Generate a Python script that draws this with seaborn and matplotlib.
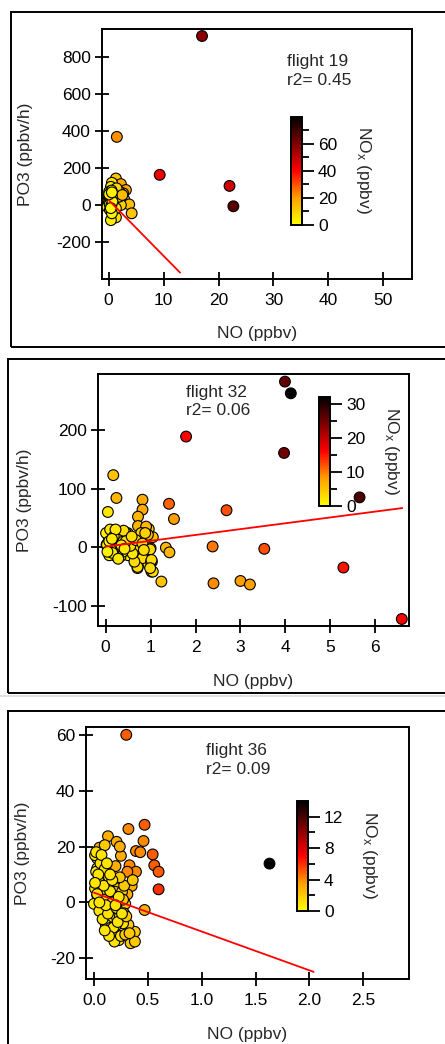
import numpy as np
import pandas as pd
import seaborn as sns
import matplotlib.pyplot as plt
from matplotlib.colors import LinearSegmentedColormap, Normalize
from matplotlib.cm import ScalarMappable
from matplotlib.patches import Rectangle
from matplotlib.lines import Line2D

# flight 19 : NO (ppbv), PO3 (ppbv/h), NOx (ppbv)
f19_no = [0.3, 0.5, 0.2, 17.0, 1.5, 9.3, 22.0, 22.7,
          1.33, 2.24, 0.6, 0.42, 3.15, 2.66, 1.93, 0.1, 0.0, 1.0, 2.85, 3.75,
          4.2, 1.33, 0.42, 0.73, 0.1, -0.2, 0.42, 1.0, 1.64, 2.24, 1.33, 0.24,
          0.6, 0.0, 0.84, 1.45, 0.55, 1.18, 1.93, 2.5, 0.2, 0.3, 0.5, 0.4,
          0.6, 0.3, 0.2, 0.5, 0.7, 0.4, 0.1, 0.6]
f19_po3 = [30, 10, -5, 915, 370, 165, 105, -5,
           145, 115, 122, 100, 83, 65, 74, 74, 47, 47, 32, 5,
           -43, -65, -80, -25, 11, -8, 19, 11, 29, 2, -16, -25,
           -43, 29, 65, 92, 80, 36, 47, 56, 40, 25, 35, 15,
           45, 55, 5, 0, 20, -15, 60, 70]
f19_nox = [72, 70, 68, 58, 22, 42, 48, 66,
           12, 18, 6, 5, 18, 16, 12, 4, 2, 8, 16, 14,
           12, 6, 4, 4, 2, 1, 2, 3, 6, 10, 4, 2,
           3, 1, 5, 8, 5, 5, 10, 14, 2, 2, 2, 1,
           3, 2, 1, 1, 2, 1, 2, 3]

# flight 32
f32_no = [3.99, 4.12, 1.79, 3.97, 5.65, 0.17, 0.24, 0.05, 0.82, 0.82,
          0.72, 0.72, 1.41, 1.52, 2.69, 2.38, 3.53, 5.29, 6.59, 2.40,
          3.0, 3.21, 1.24, 1.02, 1.03, 0.95, 1.34, 1.42, 1.05, 0.96,
          0.9, 0.92, 1.0, 0.72, 0.71, 0.65, 0.5, 0.49, 0.55, 0.35,
          0.24, 0.13, 0.06, 0.05, 0.2, 0.25, 0.33, 0.07, 0.02, 0.62,
          0.3, 0.9, 0.94, 0.79, 0.45, 0.49, 0.71, 0.94, 0.82, 1.01,
          1.05, 0.71, 0.64, 0.6, 0.38, 0.27, 0.23, 0.12, 0.01, 0.16,
          0.3, 0.38, 0.12, 0.03, 0.19, 0.08, 0.53, 0.55, 0.67, 0.82,
          0.88, 0.99, 0.85, 1.02, 0.99, 0.1, 0.15, 0.4, 0.45, 0.28,
          0.18, 0.08, 0.35, 0.58, 0.04, 0.22, 0.14, 0.42]
f32_po3 = [283, 263, 189, 161, 85, 123, 84, 60, 81, 64,
           52, 36, 74, 48, 63, 1, -3, -35, -123, -62,
           -58, -64, -59, -42, -25, -29, -1, -9, 17, 31,
           22, -5, -2, -2, -36, -26, -14, 24, 5, -7,
           16, 27, 19, 7, -2, 8, -16, -4, 4, 14,
           25, 35, 21, 24, 24, 6, 1, -2, -19, -25,
           -42, -34, -25, -11, -8, -16, 1, 12, 24, 26,
           24, 9, -5, 4, -14, -14, 15, 2, 12, 6,
           24, -4, -5, -22, -36, 30, -10, 28, 10, -20,
           18, 10, 3, 18, -8, 30, 14, -3]
f32_nox = [26, 32, 16, 25, 27, 5, 6, 2, 7, 7,
           6, 6, 11, 8, 12, 10, 12, 15, 16, 9,
           8, 8, 5, 3, 3, 3, 6, 6, 5, 5,
           5, 4, 4, 3, 3, 3, 2, 4, 3, 2,
           2, 2, 1, 1, 1, 2, 2, 1, 1, 3,
           2, 6, 5, 4, 3, 3, 3, 4, 3, 3,
           3, 3, 3, 2, 2, 2, 2, 2, 1, 2,
           2, 2, 1, 1, 1, 1, 3, 3, 3, 4,
           4, 3, 3, 3, 3, 2, 2, 3, 3, 2,
           2, 1, 2, 3, 1, 2, 2, 2]

# flight 36
f36_no = [0.30, 1.63, 0.47, 0.32, 0.13, 0.21, 0.46, 0.545, 0.39, 0.43,
          0.56, 0.60, 0.60, 0.33, 0.39, 0.31, 0.20, 0.25, 0.24, 0.05,
          0.10, 0.35, 0.31, 0.47, 0.38, 0.34, 0.38, 0.23, 0.16, 0.32,
          0.27, 0.20, 0.19, 0.19, 0.12, 0.06, 0.03, 0.01, 0.06, 0.03,
          0.03, 0.01, 0.06, 0.10, 0.16, 0.14, 0.22, 0.24, 0.19, 0.29,
          0.28, 0.24, 0.12, 0.06, 0.00, 0.02, 0.06, 0.10, 0.14, 0.08,
          0.11, 0.16, 0.19, 0.25, 0.29, 0.33, 0.20, 0.26, 0.28, 0.24,
          0.04, 0.07, 0.09, 0.02, 0.05, 0.08, 0.13, 0.17, 0.21, 0.15,
          0.11, 0.04, 0.09, 0.18, 0.22, 0.27, 0.14, 0.07, 0.03, 0.12,
          0.17, 0.23, 0.30, 0.26, 0.36, 0.10, 0.05, 0.15, 0.20, 0.01]
f36_po3 = [60, 13.9, 27.8, 26.3, 23.7, 21.7, 22, 17.2, 18.4, 18,
           13.3, 11, 4.7, 13.3, 11, 11, 13, 16.7, 20, 19.6,
           20.5, 5.9, 2.9, -2.7, -10.5, -14.6, -14, -13.5, -11.5, -8,
           -7.5, -8.5, -5.4, -2, -6.5, -2, 2.6, 5, 7.4, 12.2,
           15.8, 16.9, 9.8, 5.6, 7.4, 2.6, 5, 1.5, 0.8, -0.5,
           -3.9, -5, -2.7, 0, -0.5, 11, 14, 12, 9, 2.6,
           -8, -9, -14, -12, -11.5, -11, 3.8, 3.8, 6, 9,
           8, 4, 1, 18, -3, -6, -4, 0, -2, 4,
           -1, 10, 6, -9, -7, 1, -12, 17, 3, 14,
           8, 2, -5, -4, 8, -10, 0, 10, -1, 7]
f36_nox = [5, 14, 5, 4, 3, 3, 4, 5, 4, 4,
           5, 5, 6, 4, 4, 4, 3, 3, 3, 3,
           2, 3, 3, 3, 2, 2, 2, 1, 1, 2,
           1, 1, 1, 1, 1, 1, 1, 1, 1, 1,
           1, 1, 1, 2, 2, 1, 2, 1, 1, 2,
           2, 1, 1, 1, 0.5, 1, 1, 1, 1, 1,
           1, 1, 1, 1, 2, 2, 2, 2, 2, 2,
           1, 1, 1, 1, 1, 1, 1, 1, 1, 1,
           1, 1, 1, 1, 1, 2, 1, 1, 1, 1,
           1, 1, 2, 1, 2, 1, 1, 1, 1, 1]

flights = ["flight 19", "flight 32", "flight 36"]
r2_values = [0.45, 0.06, 0.09]
fit_slope = [-30.2, 10.0, -13.9]
fit_intercept = [29, 0.7, 3.5]
fit_xmax = [13.0, 6.6, 2.04]
nox_max = [80, 32, 14]

x_ticks = [[0, 10, 20, 30, 40, 50], [0, 1, 2, 3, 4, 5, 6], [0.0, 0.5, 1.0, 1.5, 2.0, 2.5]]
y_ticks = [[-200, 0, 200, 400, 600, 800], [-100, 0, 100, 200], [-20, 0, 20, 40, 60]]
cb_ticks = [[0, 20, 40, 60], [0, 10, 20, 30], [0, 4, 8, 12]]
cb_minor = [[10, 30, 50, 70], [5, 15, 25], [2, 6, 10]]
x_lims = [(-1.2, 55.2), (-0.17, 6.75), (-0.074, 2.925)]
y_lims = [(-398, 953), (-135, 296), (-27.4, 62.8)]

data = [(f19_no, f19_po3, f19_nox), (f32_no, f32_po3, f32_nox), (f36_no, f36_po3, f36_nox)]

# layout in pixels (left, top, right, bottom)
W, H = 445, 1044
ax_px = [(102, 29, 412, 279), (98, 374, 409, 626), (86, 727, 409, 979)]
cb_px = [(291, 117, 302, 225), (319, 397, 330, 506), (297, 801, 308, 911)]
frame_px = [(11, 12, 460, 347), (8, 359, 460, 693), (8, 711, 460, 1060)]
ylab_x = [-0.223, -0.212, -0.173]
txt_pos = [(0.597, 0.9), (0.283, 0.958), (0.372, 0.936)]

sns.set_theme(style="white")
plt.rcParams['font.family'] = ['Liberation Sans', 'DejaVu Sans']
plt.rcParams['mathtext.fontset'] = 'custom'
plt.rcParams['mathtext.rm'] = 'Liberation Sans'
plt.rcParams['mathtext.it'] = 'Liberation Sans'
plt.rcParams['axes.unicode_minus'] = False

cmap = LinearSegmentedColormap.from_list(
    "nox", ["#ffff00", "#ffa000", "#ff0000", "#800000", "#000000"])

fs = 12.5
fig = plt.figure(figsize=(W / 100, H / 100), dpi=100)

def fig_rect(l, t, r, b):
    return [l / W, 1 - b / H, (r - l) / W, (b - t) / H]

# light separator line between panel 2 and 3
fig.add_artist(Line2D([0, 1], [1 - 696 / H, 1 - 696 / H], color="#dcdcdc", lw=1.2,
                      transform=fig.transFigure))

for i in range(3):
    l, t, r, b = frame_px[i]
    fig.add_artist(Rectangle((l / W, 1 - b / H), (r - l) / W, (b - t) / H,
                             transform=fig.transFigure, fill=False,
                             edgecolor="black", lw=1.4, clip_on=False))

    ax = fig.add_axes(fig_rect(*ax_px[i]))
    df = pd.DataFrame({"NO": data[i][0], "PO3": data[i][1], "NOx": data[i][2]})
    sns.scatterplot(data=df, x="NO", y="PO3", hue="NOx", palette=cmap,
                    hue_norm=(0, nox_max[i]), s=60, edgecolor="black",
                    linewidth=0.8, legend=False, ax=ax, zorder=3)

    fit = pd.DataFrame({"NO": [0, fit_xmax[i]]})
    fit["PO3"] = fit_intercept[i] + fit_slope[i] * fit["NO"]
    sns.lineplot(data=fit, x="NO", y="PO3", color="red", lw=1.3, ax=ax, zorder=4)

    ax.set_xlim(*x_lims[i])
    ax.set_ylim(*y_lims[i])
    ax.set_xticks(x_ticks[i])
    ax.set_yticks(y_ticks[i])
    if i == 2:
        ax.set_xticklabels([f"{v:.1f}" for v in x_ticks[i]])
    ax.tick_params(direction="inout", length=10, width=1.3, labelsize=fs,
                   colors="black", pad=3, left=True, bottom=True)
    ax.tick_params(axis="x", pad=5)
    for sp in ax.spines.values():
        sp.set_visible(True)
        sp.set_color("black")
        sp.set_linewidth(1.4)
    ax.set_xlabel("NO (ppbv)", fontsize=fs)
    ax.set_ylabel("PO3 (ppbv/h)", fontsize=fs)
    ax.xaxis.set_label_coords(0.5, -0.19)
    ax.yaxis.set_label_coords(ylab_x[i], 0.5)
    ax.text(txt_pos[i][0], txt_pos[i][1], f"{flights[i]}\nr2= {r2_values[i]:.2f}",
            transform=ax.transAxes, ha="left", va="top", fontsize=fs,
            linespacing=1.3)

    cax = fig.add_axes(fig_rect(*cb_px[i]))
    sm = ScalarMappable(norm=Normalize(0, nox_max[i]), cmap=cmap)
    cb = fig.colorbar(sm, cax=cax)
    cb.outline.set_edgecolor("black")
    cb.outline.set_linewidth(1.4)
    cb.set_ticks(cb_ticks[i])
    cax.set_yticks(cb_minor[i], minor=True)
    cax.tick_params(which="major", direction="out", length=8.5, width=1.3,
                    labelsize=fs, pad=3, colors="black")
    cax.tick_params(which="minor", direction="out", length=5, width=1.3,
                    colors="black")
    cax.text(6.6, 0.51, "NO$_x$ (ppbv)", transform=cax.transAxes, rotation=270,
             ha="center", va="center", fontsize=fs)

fig.savefig("out.png", dpi=100)
